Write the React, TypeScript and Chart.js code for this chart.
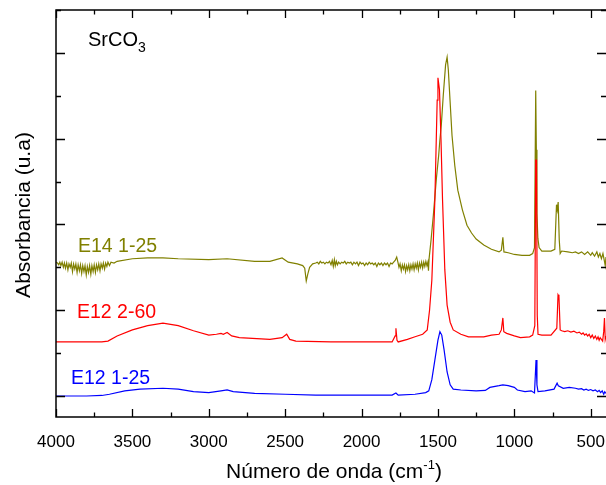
import React, { useEffect, useRef } from "react";
import { Chart, registerables } from "chart.js";

Chart.register(...registerables);

// ---- Data (wavenumber in cm^-1, absorbance in arbitrary offset units) ----
const xTickValues = [4000, 3500, 3000, 2500, 2000, 1500, 1000, 500];

const blueWn = [4000, 3800, 3700, 3650, 3550, 3450, 3300, 3200, 3100, 3000, 2920, 2880, 2840, 2700, 2500, 2300, 1800, 1775, 1760, 1650, 1580, 1560, 1540, 1520, 1500, 1487, 1475, 1460, 1440, 1420, 1400, 1350, 1250, 1190, 1160, 1100, 1075, 1040, 1000, 980, 930, 890, 868, 858, 852, 845, 800, 740, 720, 712, 680, 640, 600, 580, 560, 545, 530, 515, 500, 485, 470, 455, 445, 435, 425, 415, 408, 400];
const blueAbs = [0.0, 0.0, 0.006, 0.02, 0.06, 0.08, 0.09, 0.08, 0.05, 0.04, 0.06, 0.07, 0.05, 0.03, 0.02, 0.01, 0.01, 0.035, 0.01, 0.02, 0.04, 0.06, 0.19, 0.42, 0.65, 0.75, 0.71, 0.54, 0.28, 0.13, 0.08, 0.07, 0.06, 0.065, 0.1, 0.12, 0.13, 0.12, 0.1, 0.07, 0.05, 0.06, 0.035, 0.42, 0.13, 0.05, 0.06, 0.08, 0.15, 0.12, 0.09, 0.1, 0.09, 0.08, 0.085, 0.07, 0.08, 0.065, 0.075, 0.06, 0.07, 0.05, 0.065, 0.04, 0.06, 0.02, 0.05, 0.03];

const redWn = [4000, 3700, 3660, 3600, 3500, 3400, 3300, 3200, 3100, 3000, 2950, 2920, 2905, 2880, 2850, 2800, 2600, 2520, 2490, 2470, 2430, 2200, 1800, 1780, 1775, 1768, 1760, 1700, 1650, 1600, 1570, 1555, 1540, 1520, 1505, 1500, 1490, 1480, 1470, 1455, 1440, 1420, 1400, 1350, 1300, 1200, 1150, 1100, 1085, 1075, 1069, 1050, 1000, 960, 900, 880, 866, 860, 855, 850, 845, 820, 760, 722, 714, 708, 700, 690, 670, 650, 630, 610, 590, 575, 560, 550, 540, 530, 520, 510, 500, 490, 480, 470, 460, 452, 445, 438, 430, 422, 415, 410, 405, 400];
const redAbs = [0.63, 0.63, 0.64, 0.7, 0.77, 0.82, 0.85, 0.82, 0.76, 0.71, 0.72, 0.73, 0.72, 0.74, 0.7, 0.68, 0.66, 0.68, 0.72, 0.66, 0.64, 0.63, 0.63, 0.7, 0.79, 0.65, 0.63, 0.66, 0.69, 0.72, 0.77, 1.0, 1.35, 2.29, 3.45, 3.71, 3.57, 2.99, 2.29, 1.47, 1.06, 0.86, 0.77, 0.72, 0.69, 0.69, 0.71, 0.72, 0.77, 0.91, 0.75, 0.73, 0.7, 0.68, 0.69, 0.71, 0.82, 2.75, 2.75, 0.94, 0.72, 0.71, 0.71, 0.79, 1.18, 1.16, 0.77, 0.76, 0.75, 0.76, 0.745, 0.755, 0.735, 0.745, 0.72, 0.735, 0.71, 0.725, 0.7, 0.72, 0.68, 0.71, 0.67, 0.7, 0.66, 0.69, 0.65, 0.68, 0.66, 0.64, 0.75, 0.91, 0.66, 0.7];

const oliveWn = [4000, 3990, 3982, 3975, 3968, 3960, 3952, 3945, 3938, 3930, 3922, 3915, 3907, 3900, 3892, 3885, 3877, 3870, 3862, 3855, 3847, 3840, 3832, 3825, 3817, 3810, 3802, 3795, 3787, 3780, 3772, 3765, 3757, 3750, 3742, 3735, 3727, 3720, 3712, 3705, 3697, 3690, 3682, 3675, 3667, 3660, 3650, 3640, 3620, 3600, 3500, 3400, 3300, 3200, 3000, 2880, 2700, 2600, 2520, 2480, 2420, 2385, 2372, 2362, 2352, 2340, 2320, 2300, 2290, 2280, 2270, 2260, 2250, 2240, 2230, 2220, 2210, 2200, 2192, 2185, 2178, 2172, 2165, 2158, 2150, 2140, 2130, 2120, 2110, 2100, 2090, 2080, 2070, 2060, 2050, 2040, 2030, 2020, 2010, 2000, 1990, 1980, 1970, 1960, 1950, 1940, 1930, 1920, 1910, 1900, 1890, 1880, 1870, 1860, 1850, 1840, 1830, 1820, 1810, 1800, 1790, 1780, 1770, 1762, 1755, 1748, 1740, 1733, 1726, 1719, 1712, 1705, 1698, 1691, 1684, 1677, 1670, 1663, 1656, 1649, 1642, 1635, 1628, 1621, 1614, 1607, 1600, 1593, 1586, 1579, 1572, 1566, 1562, 1558, 1545, 1530, 1510, 1495, 1487, 1478, 1465, 1450, 1440, 1432, 1421, 1408, 1390, 1370, 1340, 1310, 1280, 1250, 1200, 1150, 1100, 1085, 1075, 1068, 1040, 1000, 950, 900, 880, 868, 860, 856, 852, 846, 838, 820, 760, 735, 724, 719, 713, 706, 700, 690, 650, 620, 600, 580, 560, 540, 520, 500, 490, 475, 460, 450, 440, 430, 420, 410, 405, 400];
const oliveAbs = [1.56, 1.55, 1.53, 1.56, 1.52, 1.56, 1.5, 1.55, 1.49, 1.55, 1.47, 1.54, 1.5, 1.55, 1.45, 1.54, 1.48, 1.54, 1.44, 1.53, 1.46, 1.53, 1.43, 1.52, 1.45, 1.52, 1.41, 1.51, 1.44, 1.52, 1.42, 1.52, 1.45, 1.53, 1.44, 1.53, 1.47, 1.54, 1.46, 1.54, 1.49, 1.55, 1.48, 1.55, 1.51, 1.56, 1.52, 1.56, 1.55, 1.57, 1.6, 1.61, 1.61, 1.6, 1.59, 1.6, 1.57, 1.57, 1.61, 1.56, 1.54, 1.52, 1.49, 1.34, 1.42, 1.5, 1.54, 1.55, 1.56, 1.54, 1.57, 1.55, 1.56, 1.54, 1.56, 1.55, 1.57, 1.53, 1.58, 1.51, 1.59, 1.52, 1.57, 1.53, 1.56, 1.54, 1.56, 1.55, 1.57, 1.54, 1.56, 1.55, 1.56, 1.53, 1.56, 1.54, 1.56, 1.52, 1.56, 1.54, 1.55, 1.52, 1.55, 1.53, 1.56, 1.54, 1.55, 1.53, 1.55, 1.51, 1.55, 1.53, 1.55, 1.52, 1.55, 1.53, 1.55, 1.51, 1.55, 1.54, 1.56, 1.58, 1.62, 1.56, 1.5, 1.54, 1.46, 1.53, 1.48, 1.53, 1.45, 1.52, 1.47, 1.53, 1.46, 1.53, 1.48, 1.54, 1.47, 1.54, 1.49, 1.55, 1.47, 1.55, 1.5, 1.56, 1.49, 1.56, 1.51, 1.57, 1.52, 1.56, 1.46, 1.6, 1.82, 2.11, 2.54, 2.81, 2.99, 3.16, 3.51, 3.86, 3.95, 3.8, 3.45, 3.04, 2.69, 2.4, 2.17, 1.99, 1.9, 1.83, 1.76, 1.71, 1.68, 1.7, 1.85, 1.68, 1.67, 1.65, 1.64, 1.64, 1.66, 1.73, 3.56, 2.87, 2.13, 1.84, 1.73, 1.69, 1.69, 1.71, 2.23, 2.17, 2.26, 1.82, 1.66, 1.69, 1.68, 1.67, 1.68, 1.66, 1.68, 1.65, 1.68, 1.64, 1.67, 1.63, 1.68, 1.62, 1.66, 1.6, 1.66, 1.57, 1.52, 1.62];

const seriesNames = ["E14 1-25", "E12 2-60", "E12 1-25"];
const seriesColors = ["#808000", "#ff0000", "#0000ff"];

const FONT = "'Liberation Sans', Arial, sans-serif";

function toPoints(wn: number[], abs: number[]) {
  return wn.map((w, i) => ({ x: w, y: abs[i] }));
}

const framePlugin = {
  id: "framePlugin",
  afterDraw(chart: any) {
    const { ctx, chartArea, scales } = chart;
    const xs = scales.x;
    const ys = scales.y;
    const { left, right, top, bottom } = chartArea;
    ctx.save();
    ctx.strokeStyle = "#000";
    ctx.lineWidth = 1.5;
    // frame
    ctx.beginPath();
    ctx.moveTo(right + 1, top);
    ctx.lineTo(left, top);
    ctx.lineTo(left, bottom);
    ctx.lineTo(right + 1, bottom);
    ctx.moveTo(right + 0.75, top);
    ctx.lineTo(right + 0.75, bottom);
    ctx.stroke();
    // x ticks (inward, bottom and top)
    ctx.lineWidth = 1.3;
    ctx.beginPath();
    for (let v = 4000; v >= 400; v -= 250) {
      const px = Math.round(xs.getPixelForValue(v)) + 0.5;
      const major = v % 500 === 0;
      const len = major ? 8 : 4.5;
      ctx.moveTo(px, bottom);
      ctx.lineTo(px, bottom - len);
      ctx.moveTo(px, top);
      ctx.lineTo(px, top + len);
    }
    // y ticks (inward, left and right)
    for (let v = 0; v <= 4.5; v += 0.5) {
      const py = Math.round(ys.getPixelForValue(v)) + 0.5;
      const major = Math.abs(v - Math.round(v)) < 1e-6;
      const len = major ? 9 : 5;
      ctx.moveTo(left, py);
      ctx.lineTo(left + len, py);
      ctx.moveTo(right, py);
      ctx.lineTo(right - len, py);
    }
    ctx.stroke();

    // compound label
    ctx.fillStyle = "#000";
    ctx.textBaseline = "alphabetic";
    ctx.textAlign = "left";
    ctx.font = `20px ${FONT}`;
    ctx.fillText("SrCO", 88, 46);
    const w = ctx.measureText("SrCO").width;
    ctx.font = `14px ${FONT}`;
    ctx.fillText("3", 88 + w, 52);

    // series labels
    const labelPos = [
      [78, 252],
      [77, 318],
      [71, 384],
    ];
    ctx.font = `19.5px ${FONT}`;
    seriesNames.forEach((n, i) => {
      ctx.fillStyle = seriesColors[i];
      ctx.fillText(n, labelPos[i][0], labelPos[i][1]);
    });

    // x axis title with superscript
    ctx.fillStyle = "#000";
    const mainFont = `21px ${FONT}`;
    const supFont = `13px ${FONT}`;
    ctx.font = mainFont;
    const part1 = "Número de onda (cm";
    const part3 = ")";
    const w1 = ctx.measureText(part1).width;
    const w3 = ctx.measureText(part3).width;
    ctx.font = supFont;
    const w2 = ctx.measureText("-1").width;
    const total = w1 + w2 + w3;
    const cx = 334;
    const x0 = cx - total / 2;
    const base = 478;
    ctx.font = mainFont;
    ctx.fillText(part1, x0, base);
    ctx.font = supFont;
    ctx.fillText("-1", x0 + w1, base - 9);
    ctx.font = mainFont;
    ctx.fillText(part3, x0 + w1 + w2, base);

    // y axis title
    ctx.save();
    ctx.translate(30, 215);
    ctx.rotate(-Math.PI / 2);
    ctx.textAlign = "center";
    ctx.font = `21px ${FONT}`;
    ctx.fillText("Absorbancia (u.a)", 0, 0);
    ctx.restore();

    ctx.restore();
  },
};

export default function App() {
  const canvasRef = useRef<HTMLCanvasElement | null>(null);

  useEffect(() => {
    if (!canvasRef.current) return;
    const chart = new Chart(canvasRef.current, {
      type: "line",
      data: {
        datasets: [
          {
            label: seriesNames[1],
            data: toPoints(redWn, redAbs),
            borderColor: seriesColors[1],
            order: 0,
          },
          {
            label: seriesNames[0],
            data: toPoints(oliveWn, oliveAbs),
            borderColor: seriesColors[0],
            order: 1,
          },
          {
            label: seriesNames[2],
            data: toPoints(blueWn, blueAbs),
            borderColor: seriesColors[2],
            order: 2,
          },
        ].map((d) => ({
          ...d,
          borderWidth: 1.2,
          pointRadius: 0,
          tension: 0,
          fill: false,
        })),
      },
      options: {
        animation: false,
        responsive: false,
        maintainAspectRatio: false,
        layout: { padding: { left: 0, right: 0, top: 10, bottom: 0 } },
        plugins: {
          legend: { display: false },
          tooltip: { enabled: false },
          title: { display: false },
        },
        scales: {
          x: {
            type: "linear",
            reverse: true,
            min: 400,
            max: 4000,
            grid: { display: false },
            border: { display: false },
            afterBuildTicks: (scale: any) => {
              scale.ticks = xTickValues.map((v) => ({ value: v }));
            },
            afterFit: (scale: any) => {
              scale.height = 68;
              scale.paddingLeft = 0;
              scale.paddingRight = 0;
            },
            ticks: {
              autoSkip: false,
              maxRotation: 0,
              padding: 7,
              color: "#000",
              font: { family: FONT, size: 17 },
              callback: (v: any) => String(v),
            },
          },
          y: {
            type: "linear",
            min: -0.245,
            max: 4.5,
            grid: { display: false },
            border: { display: false },
            ticks: { display: false },
            afterFit: (scale: any) => {
              scale.width = 56;
              scale.paddingTop = 0;
              scale.paddingBottom = 0;
            },
          },
        },
      },
      plugins: [framePlugin],
    });
    return () => chart.destroy();
  }, []);

  return (
    <div style={{ position: "absolute", left: 0, top: 0, width: 606, height: 485 }}>
      <canvas ref={canvasRef} width={606} height={485} style={{ width: 606, height: 485 }} />
    </div>
  );
}
